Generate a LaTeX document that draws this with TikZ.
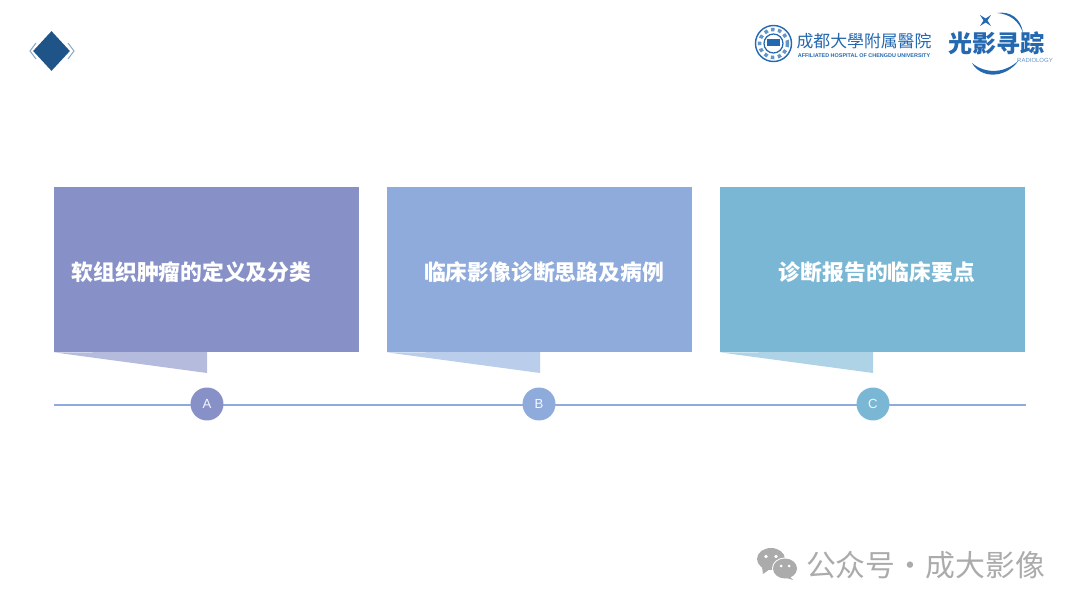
\documentclass[tikz,border=0pt]{standalone}
\usepackage{fontspec}
\setmainfont{Liberation Sans}
\newfontfamily\cjk{Noto Sans CJK SC}
\usetikzlibrary{shapes.geometric}
\definecolor{cardA}{HTML}{8791C8}
\definecolor{cardB}{HTML}{8EABDC}
\definecolor{cardC}{HTML}{7AB7D5}
\definecolor{tailA}{HTML}{B5BBDD}
\definecolor{tailB}{HTML}{BACDEA}
\definecolor{tailC}{HTML}{AFD3E6}
\definecolor{navy}{HTML}{1F5488}
\definecolor{logoblue}{HTML}{2468B0}
\definecolor{markgray}{HTML}{ABABAB}
\tikzset{
  card/.style={minimum width=6.1cm, minimum height=3.3cm, inner sep=0pt},
  cardtext/.style={inner sep=0pt, text=white, font=\cjk\bfseries\fontsize{12.4}{14}\selectfont},
  badge/.style={circle, minimum size=0.66cm, inner sep=0pt, text=white!90!cardB, font=\fontsize{7.5}{10}\selectfont},
}
\begin{document}
\begin{tikzpicture}[x=0.02cm, y=-0.02cm]
\useasboundingbox (0,0) rectangle (1080,608);
% diamond mark
\draw[navy!50, line width=0.6pt] (36,43) -- (30,51) -- (36,59);
\draw[navy!50, line width=0.6pt] (68,43) -- (74,51) -- (68,59);
\node[diamond, fill=navy, minimum width=0.74cm, minimum height=0.8cm, inner sep=0pt] (mark) at (51.5,51) {};
% cards
\node[card, fill=cardA] (cardA) at (206.5,269.5) {};
\node[card, fill=cardB] (cardB) at (539.5,269.5) {};
\node[card, fill=cardC] (cardC) at (872.5,269.5) {};
\node[cardtext] (textA) at (191.5,272) {软组织肿瘤的定义及分类};
\node[cardtext] (textB) at (544,272) {临床影像诊断思路及病例};
\node[cardtext] (textC) at (877,272) {诊断报告的临床要点};
\fill[tailA] (cardA.south west) -- (207,352) -- (207,373) -- cycle;
\fill[tailB] (cardB.south west) -- (540,352) -- (540,373) -- cycle;
\fill[tailC] (cardC.south west) -- (873,352) -- (873,373) -- cycle;
% timeline
\coordinate (lineL) at (54,405);
\coordinate (lineR) at (1026,405);
\draw[cardB, line width=1.1pt] (lineL) -- (lineR);
\node[badge, fill=cardA] (dotA) at (207,404) {A};
\node[badge, fill=cardB] (dotB) at (539,404) {B};
\node[badge, fill=cardC] (dotC) at (873,404) {C};
% hospital logo
\draw[logoblue, line width=0.8pt] (773.5,43.5) circle (18);
\draw[logoblue!70, line width=2pt, dotted] (773.5,43.5) circle (14);
\draw[logoblue, line width=0.7pt] (773.5,43.5) circle (9.5);
\fill[logoblue] (767,39) rectangle (780,46);
\node[text=logoblue, font=\cjk\fontsize{9.6}{11}\selectfont, inner sep=0pt] (hosp) at (864,41) {成都大學附属醫院};
\node[text=logoblue, font=\bfseries\fontsize{3.1}{4}\selectfont, inner sep=0pt] (hospen) at (864,56) {AFFILIATED HOSPITAL OF CHENGDU UNIVERSITY};
% radiology logo
\fill[logoblue] (997,13) .. controls (1010,11) and (1021,18) .. (1023,33) .. controls (1019,21) and (1010,14) .. (997,13) -- cycle;
\fill[logoblue] (972,63) .. controls (980,78) and (1005,80) .. (1019,60) .. controls (1005,74) and (985,74) .. (972,63) -- cycle;
\fill[logoblue] (980,15) -- (985.6,18.5) -- (991,15) -- (987.5,20.5) -- (991,26) -- (985.6,22.5) -- (980,26) -- (983.5,20.5) -- cycle;
\node[text=logoblue, font=\cjk\bfseries\fontsize{13.7}{15}\selectfont, inner sep=0pt] (brand) at (996.5,43) {光影寻踪};
\node[text=logoblue!70, font=\fontsize{3.4}{4}\selectfont, inner sep=0pt] (radio) at (1035,60) {RADIOLOGY};
% watermark
\fill[markgray] (771,559) ellipse (14 and 11);
\fill[markgray] (762,567) -- (763,574) -- (770,569) -- cycle;
\fill[white] (785,568.5) ellipse (13 and 11);
\fill[markgray] (785,568.5) ellipse (12 and 10);
\fill[markgray] (789,576) -- (793,580) -- (783,577) -- cycle;
\fill[white] (766,556.5) circle (1.8) (776,556.5) circle (1.8) (781,566) circle (1.5) (789,566) circle (1.5);
\node[text=markgray, font=\cjk\fontsize{17}{19}\selectfont, inner sep=0pt] (wm) at (925.5,565) {公众号·成大影像};
\end{tikzpicture}
\end{document}
